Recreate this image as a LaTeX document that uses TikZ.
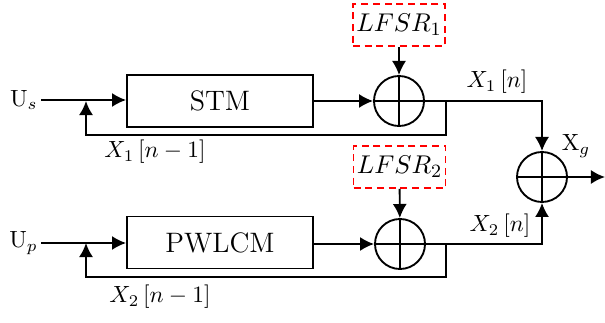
\documentclass[tikz,border=0pt]{standalone}
\usepackage{amsmath}
\usepackage{tikz}
\usetikzlibrary{arrows.meta}

\begin{document}
\begin{tikzpicture}[x=0.015cm,y=-0.015cm,line width=0.8pt,>={Latex[length=6pt,width=6pt]},
  blk/.style={draw,rectangle,minimum width=2.79cm,minimum height=0.78cm,font=\large},
  lfsr/.style={draw=red,dashed,dash pattern=on 3pt off 2pt,rectangle,minimum width=1.38cm,minimum height=0.63cm,inner sep=1pt,font=\fontsize{11}{13}\selectfont},
  xorgate/.style={draw,circle,minimum size=0.75cm,inner sep=0pt,path picture={
     \draw (path picture bounding box.north) -- (path picture bounding box.south)
           (path picture bounding box.west) -- (path picture bounding box.east);}}]
\useasboundingbox (0,0) rectangle (605,323);
\node[blk] (stm) at (220,101) {STM};
\node[blk] (pwlcm) at (220,242.5) {PWLCM};
\node[xorgate] (xor1) at (399,101) {};
\node[xorgate] (xor2) at (400,244) {};
\node[xorgate] (xorg) at (542,177) {};
\node[lfsr] (lfsr1) at (399,25) {$LFSR_1$};
\node[lfsr] (lfsr2) at (399.5,167) {$LFSR_2$};
\node[anchor=east,inner sep=1pt] (us) at (41,100) {U$_s$};
\node[anchor=east,inner sep=1pt] (up) at (41,243) {U$_p$};
\coordinate (fb1) at (446,101);
\coordinate (fb2) at (446,244);
\coordinate (in1) at (86,101);
\coordinate (in2) at (86,243);
\coordinate (out) at (605,177);
% first branch
\draw[->] (us) -- (stm.west |- us);
\draw[->] (stm) -- (xor1);
\draw[->] (lfsr1) -- (xor1);
\draw[->] (xor1) -- (fb1) -| (xorg.north);
\draw[->] (fb1) |- (86,135) -- (in1);
% second branch
\draw[->] (up) -- (pwlcm.west |- up);
\draw[->] (pwlcm.east |- xor2) -- (xor2);
\draw[->] (lfsr2) -- (xor2);
\draw[->] (xor2) -- (fb2) -| (xorg.south);
\draw[->] (fb2) |- (86,277) -- (in2);
\draw[->] (xorg) -- (out);
% labels
\node at (155,152) {$X_1\left[n-1\right]$};
\node at (160,297) {$X_2\left[n-1\right]$};
\node at (497,82) {$X_1\left[n\right]$};
\node at (500,226) {$X_2\left[n\right]$};
\node at (576,146) {X$_g$};
\end{tikzpicture}
\end{document}
